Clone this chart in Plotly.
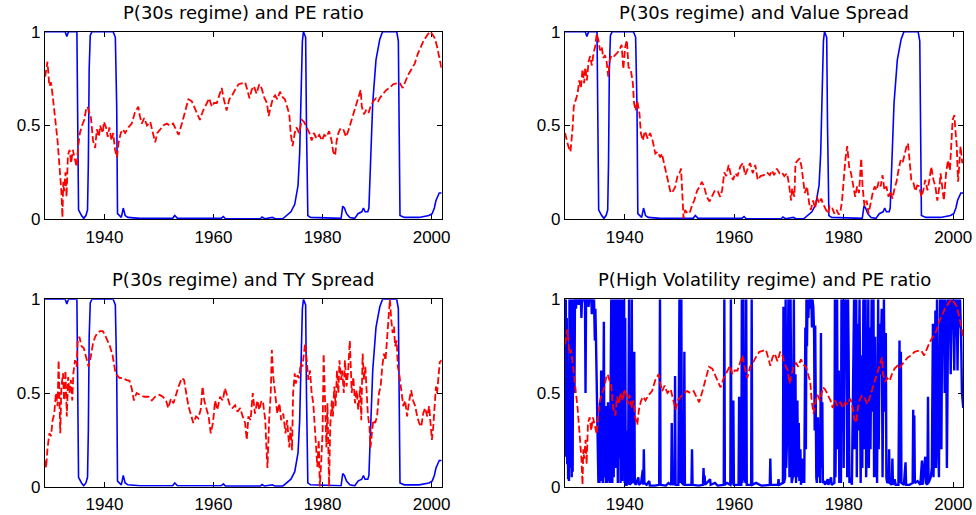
import plotly.graph_objects as go

# ---------------- data ----------------
# P(30s regime) - shared by the first three panels
p30_years = [1929.1, 1932.8, 1933.1, 1933.4, 1934.95, 1935.1, 1935.25, 1935.8, 1936.2, 1936.6,
             1936.9, 1937.05, 1937.2, 1937.4, 1937.7, 1941.6, 1942.0, 1942.25, 1942.4, 1943.1,
             1943.45, 1943.8, 1944.3, 1946.5, 1952.5, 1952.9, 1953.4, 1961.4, 1961.8, 1962.2,
             1968.6, 1968.9, 1969.4, 1970.8, 1971.3, 1972.7, 1973.4, 1974.2, 1974.9, 1975.5,
             1975.8, 1976.1, 1976.3, 1976.5, 1976.9, 1977.05, 1977.3, 1977.8, 1983.4, 1983.7,
             1984.0, 1984.4, 1985.0, 1985.9, 1986.5, 1987.2, 1987.5, 1987.8, 1988.3, 1988.5,
             1988.9, 1989.2, 1989.8, 1990.5, 1991.0, 1993.6, 1993.9, 1994.05, 1994.2, 1995.0,
             1997.7, 1999.5, 2000.1, 2000.5, 2000.8, 2001.4, 2001.85]
p30_prob = [1.0, 1.0, 0.975, 1.0, 1.0, 0.6, 0.05, 0.02, 0.005, 0.02,
            0.05, 0.3, 0.8, 0.98, 1.0, 1.0, 0.97, 0.6, 0.03, 0.01,
            0.06, 0.02, 0.01, 0.005, 0.005, 0.02, 0.005, 0.005, 0.015, 0.003,
            0.003, 0.012, 0.003, 0.01, 0.003, 0.003, 0.02, 0.04, 0.08, 0.18,
            0.35, 0.7, 0.95, 1.0, 0.97, 0.5, 0.02, 0.01, 0.005, 0.07,
            0.06, 0.03, 0.01, 0.005, 0.03, 0.04, 0.06, 0.04, 0.04, 0.06,
            0.35, 0.62, 0.85, 0.96, 1.0, 1.0, 0.95, 0.3, 0.02, 0.01,
            0.01, 0.02, 0.03, 0.06, 0.1, 0.14, 0.14]

# PE ratio (normalised) - panels 1 and 4
pe_years = [1929.13, 1929.4, 1929.55, 1929.9, 1930.2, 1930.5, 1930.8, 1931.1, 1931.4, 1931.65,
            1931.9, 1932.1, 1932.3, 1932.45, 1932.6, 1932.85, 1933.05, 1933.3, 1933.6, 1933.9,
            1934.2, 1934.5, 1934.9, 1935.2, 1935.5, 1935.9, 1936.3, 1936.6, 1936.9, 1937.2,
            1937.5, 1937.9, 1938.3, 1938.6, 1939.0, 1939.2, 1939.7, 1939.9, 1940.3, 1940.6,
            1940.9, 1941.3, 1941.6, 1941.95, 1942.3, 1942.6, 1943.0, 1943.4, 1943.8, 1944.4,
            1945.0, 1945.6, 1946.2, 1946.5, 1946.85, 1947.3, 1947.8, 1948.4, 1948.9, 1949.3,
            1949.7, 1950.2, 1950.8, 1951.4, 1952.0, 1952.6, 1953.1, 1953.6, 1954.2, 1954.8,
            1955.4, 1956.0, 1956.4, 1956.9, 1957.5, 1958.1, 1958.8, 1959.2, 1959.7, 1960.1,
            1960.6, 1961.1, 1961.5, 1961.9, 1962.4, 1962.9, 1963.4, 1963.95, 1964.6, 1965.2,
            1965.8, 1966.2, 1966.6, 1967.0, 1967.4, 1967.9, 1968.4, 1968.8, 1969.3, 1969.8,
            1970.1, 1970.5, 1970.9, 1971.3, 1971.7, 1972.2, 1972.7, 1973.1, 1973.5, 1973.9,
            1974.15, 1974.5, 1974.9, 1975.2, 1975.7, 1976.2, 1976.6, 1977.1, 1977.6, 1978.0,
            1978.4, 1978.9, 1979.4, 1979.9, 1980.3, 1980.75, 1981.2, 1981.65, 1981.95, 1982.3,
            1982.6, 1982.9, 1983.3, 1983.8, 1984.3, 1984.7, 1985.1, 1985.6, 1986.1, 1986.5,
            1987.0, 1987.2, 1987.6, 1987.95, 1988.4, 1988.8, 1989.3, 1989.8, 1990.2, 1990.6,
            1991.1, 1991.7, 1992.3, 1992.95, 1993.6, 1994.2, 1994.7, 1995.1, 1995.7, 1996.3,
            1996.9, 1997.5, 1998.0, 1998.5, 1998.95, 1999.4, 1999.8, 2000.2, 2000.6, 2001.0,
            2001.4, 2001.85]
pe_ratio = [0.76, 0.82, 0.84, 0.71, 0.73, 0.66, 0.56, 0.50, 0.42, 0.33,
            0.25, 0.15, 0.01, 0.20, 0.15, 0.25, 0.12, 0.34, 0.37, 0.30,
            0.37, 0.33, 0.28, 0.39, 0.46, 0.50, 0.53, 0.58, 0.60, 0.57,
            0.55, 0.42, 0.38, 0.48, 0.44, 0.50, 0.46, 0.52, 0.49, 0.44,
            0.49, 0.42, 0.46, 0.37, 0.33, 0.41, 0.46, 0.48, 0.46, 0.49,
            0.51, 0.57, 0.60, 0.55, 0.51, 0.54, 0.50, 0.52, 0.46, 0.41,
            0.46, 0.48, 0.50, 0.51, 0.50, 0.51, 0.48, 0.45, 0.51, 0.58,
            0.64, 0.63, 0.60, 0.57, 0.53, 0.58, 0.62, 0.645, 0.60, 0.62,
            0.62, 0.66, 0.70, 0.64, 0.58, 0.64, 0.66, 0.69, 0.72, 0.725,
            0.73, 0.69, 0.645, 0.69, 0.71, 0.67, 0.72, 0.70, 0.65, 0.62,
            0.55, 0.60, 0.645, 0.66, 0.64, 0.68, 0.65, 0.64, 0.60, 0.56,
            0.46, 0.39, 0.46, 0.49, 0.46, 0.53, 0.52, 0.49, 0.46, 0.42,
            0.46, 0.43, 0.45, 0.42, 0.45, 0.44, 0.47, 0.42, 0.36, 0.34,
            0.42, 0.46, 0.485, 0.48, 0.44, 0.47, 0.51, 0.56, 0.60, 0.64,
            0.69, 0.60, 0.56, 0.58, 0.565, 0.60, 0.63, 0.645, 0.63, 0.65,
            0.67, 0.69, 0.70, 0.72, 0.725, 0.725, 0.70, 0.73, 0.77, 0.80,
            0.83, 0.885, 0.92, 0.95, 0.97, 0.99, 1.00, 0.98, 0.965, 0.92,
            0.87, 0.80]

# Value spread (normalised) - panel 2
vs_years = [1929.1, 1929.4, 1929.7, 1930.1, 1930.5, 1930.7, 1931.1, 1931.4, 1931.7, 1932.0,
            1932.3, 1932.6, 1932.8, 1933.1, 1933.4, 1933.7, 1934.0, 1934.3, 1934.6, 1934.9,
            1935.2, 1935.5, 1935.8, 1936.1, 1936.4, 1936.7, 1937.0, 1937.3, 1937.6, 1938.05,
            1938.55, 1939.0, 1939.45, 1939.75, 1940.1, 1940.4, 1940.7, 1941.1, 1941.5, 1941.7,
            1942.0, 1942.3, 1942.7, 1942.95, 1943.3, 1943.7, 1944.2, 1944.65, 1945.1, 1945.6,
            1946.0, 1946.5, 1946.8, 1947.2, 1947.6, 1948.0, 1948.4, 1948.8, 1949.2, 1949.65,
            1950.0, 1950.3, 1950.5, 1950.75, 1951.05, 1951.5, 1951.95, 1952.3, 1952.7, 1953.2,
            1953.7, 1954.1, 1954.5, 1955.0, 1955.5, 1956.0, 1956.5, 1957.0, 1957.45, 1957.8,
            1958.2, 1958.55, 1959.0, 1959.4, 1959.8, 1960.2, 1960.6, 1961.1, 1961.6, 1962.0,
            1962.45, 1962.9, 1963.4, 1963.85, 1964.3, 1964.8, 1965.4, 1966.0, 1966.5, 1966.9,
            1967.3, 1967.8, 1968.3, 1968.7, 1969.15, 1969.65, 1970.0, 1970.4, 1970.6, 1971.0,
            1971.2, 1971.6, 1971.95, 1972.3, 1972.6, 1972.9, 1973.3, 1973.7, 1974.0, 1974.4,
            1974.8, 1975.1, 1975.5, 1975.9, 1976.2, 1976.65, 1977.1, 1977.45, 1977.9, 1978.3,
            1978.7, 1979.1, 1979.4, 1979.7, 1980.0, 1980.3, 1980.65, 1981.0, 1981.35, 1981.7,
            1982.1, 1982.45, 1982.8, 1983.2, 1983.45, 1983.8, 1984.2, 1984.55, 1984.9, 1985.3,
            1985.65, 1986.0, 1986.4, 1986.75, 1987.1, 1987.45, 1987.8, 1988.2, 1988.55, 1988.9,
            1989.3, 1989.65, 1990.0, 1990.4, 1990.75, 1991.1, 1991.5, 1991.75, 1992.0, 1992.35,
            1992.7, 1993.1, 1993.45, 1993.8, 1994.2, 1994.55, 1994.9, 1995.3, 1995.65, 1996.0,
            1996.4, 1996.75, 1997.1, 1997.5, 1997.7, 1998.0, 1998.3, 1998.7, 1999.05, 1999.4,
            1999.7, 1999.9, 2000.2, 2000.4, 2000.65, 2000.9, 2001.1, 2001.35, 2001.65, 2001.85]
value_spread = [0.46, 0.42, 0.39, 0.36, 0.49, 0.60, 0.64, 0.67, 0.74, 0.70,
                0.80, 0.725, 0.81, 0.74, 0.84, 0.87, 0.82, 0.885, 0.92, 0.99,
                0.955, 0.90, 0.92, 0.86, 0.875, 0.84, 0.76, 0.85, 0.875, 0.87,
                0.885, 0.90, 0.93, 0.80, 0.92, 0.955, 0.81, 0.80, 0.725, 0.62,
                0.58, 0.63, 0.565, 0.46, 0.42, 0.47, 0.43, 0.46, 0.42, 0.35,
                0.36, 0.33, 0.35, 0.30, 0.245, 0.19, 0.14, 0.15, 0.17, 0.23,
                0.245, 0.27, 0.17, 0.005, 0.05, 0.03, 0.04, 0.075, 0.10, 0.15,
                0.175, 0.20, 0.175, 0.12, 0.095, 0.13, 0.155, 0.15, 0.12, 0.155,
                0.25, 0.23, 0.29, 0.235, 0.21, 0.245, 0.23, 0.28, 0.30, 0.235,
                0.27, 0.30, 0.245, 0.29, 0.21, 0.23, 0.235, 0.25, 0.235, 0.26,
                0.235, 0.27, 0.245, 0.25, 0.23, 0.245, 0.19, 0.10, 0.165, 0.12,
                0.30, 0.315, 0.325, 0.28, 0.21, 0.14, 0.175, 0.085, 0.05, 0.10,
                0.06, 0.12, 0.085, 0.11, 0.085, 0.06, 0.03, 0.07, 0.06, 0.03,
                0.05, 0.025, 0.04, 0.10, 0.21, 0.315, 0.39, 0.28, 0.245, 0.19,
                0.12, 0.175, 0.14, 0.325, 0.175, 0.07, 0.10, 0.03, 0.085, 0.14,
                0.175, 0.155, 0.20, 0.175, 0.235, 0.155, 0.175, 0.12, 0.15, 0.11,
                0.165, 0.20, 0.26, 0.315, 0.30, 0.35, 0.39, 0.405, 0.30, 0.21,
                0.20, 0.15, 0.18, 0.175, 0.12, 0.155, 0.21, 0.155, 0.21, 0.28,
                0.21, 0.175, 0.10, 0.175, 0.245, 0.155, 0.10, 0.245, 0.315, 0.26,
                0.39, 0.53, 0.555, 0.46, 0.39, 0.20, 0.315, 0.39, 0.30, 0.315]

# Term (TY) spread (normalised) - panel 3
ty_years = [1929.13, 1929.3, 1929.55, 1929.9, 1930.2, 1930.5, 1930.8, 1931.1, 1931.4, 1931.6,
            1931.9, 1932.1, 1932.4, 1932.6, 1932.85, 1933.1, 1933.35, 1933.6, 1933.85, 1934.1,
            1934.3, 1934.6, 1934.9, 1935.1, 1935.4, 1935.8, 1936.2, 1936.5, 1936.9, 1937.1,
            1937.5, 1937.9, 1938.3, 1938.7, 1939.2, 1939.7, 1940.1, 1940.55, 1941.0, 1941.5,
            1941.95, 1942.3, 1942.8, 1943.4, 1944.0, 1944.6, 1945.0, 1945.4, 1945.9, 1946.5,
            1947.3, 1948.1, 1948.7, 1949.3, 1950.1, 1950.7, 1951.3, 1951.7, 1952.2, 1952.65,
            1953.15, 1953.6, 1954.2, 1954.6, 1955.0, 1955.4, 1955.8, 1956.3, 1956.8, 1957.2,
            1957.65, 1958.0, 1958.3, 1958.6, 1959.1, 1959.5, 1959.9, 1960.3, 1960.7, 1961.2,
            1961.7, 1962.1, 1962.55, 1963.0, 1963.5, 1963.95, 1964.4, 1964.9, 1965.35, 1965.8,
            1966.1, 1966.4, 1966.8, 1967.2, 1967.6, 1968.05, 1968.4, 1968.8, 1969.1, 1969.5,
            1969.75, 1969.9, 1970.2, 1970.5, 1970.7, 1970.95, 1971.3, 1971.7, 1972.1, 1972.4,
            1972.8, 1973.2, 1973.5, 1973.9, 1974.15, 1974.4, 1974.6, 1974.9, 1975.1, 1975.4,
            1975.7, 1976.0, 1976.3, 1976.6, 1976.8, 1977.1, 1977.4, 1977.7, 1978.0, 1978.3,
            1978.55, 1978.8, 1979.05, 1979.3, 1979.5, 1979.8, 1980.0, 1980.2, 1980.45, 1980.7,
            1980.9, 1981.2, 1981.4, 1981.7, 1981.9, 1982.15, 1982.4, 1982.65, 1982.9, 1983.1,
            1983.4, 1983.6, 1983.9, 1984.1, 1984.4, 1984.7, 1985.0, 1985.35, 1985.65, 1985.95,
            1986.25, 1986.55, 1986.9, 1987.1, 1987.35, 1987.6, 1987.85, 1988.1, 1988.3, 1988.6,
            1988.8, 1989.05, 1989.3, 1989.65, 1990.0, 1990.35, 1990.65, 1990.95, 1991.25, 1991.55,
            1991.9, 1992.1, 1992.35, 1992.6, 1992.85, 1993.1, 1993.3, 1993.6, 1993.8, 1994.05,
            1994.4, 1994.8, 1995.15, 1995.5, 1995.9, 1996.25, 1996.6, 1997.0, 1997.35, 1997.7,
            1998.1, 1998.45, 1998.8, 1999.2, 1999.55, 1999.8, 2000.05, 2000.3, 2000.5, 2000.8,
            2001.0, 2001.3, 2001.5, 2001.85]
ty_spread = [0.14, 0.10, 0.20, 0.285, 0.27, 0.355, 0.39, 0.50, 0.43, 0.675,
             0.285, 0.53, 0.605, 0.46, 0.62, 0.375, 0.585, 0.50, 0.57, 0.46,
             0.605, 0.675, 0.64, 0.78, 0.80, 0.75, 0.74, 0.71, 0.66, 0.64,
             0.695, 0.765, 0.80, 0.82, 0.83, 0.83, 0.81, 0.78, 0.75, 0.70,
             0.62, 0.595, 0.58, 0.58, 0.57, 0.565, 0.525, 0.46, 0.50, 0.49,
             0.48, 0.48, 0.46, 0.48, 0.49, 0.48, 0.46, 0.42, 0.47, 0.445,
             0.50, 0.535, 0.58, 0.57, 0.50, 0.43, 0.39, 0.34, 0.375, 0.365,
             0.41, 0.535, 0.46, 0.43, 0.375, 0.285, 0.34, 0.46, 0.41, 0.48,
             0.46, 0.525, 0.48, 0.435, 0.42, 0.435, 0.40, 0.42, 0.375, 0.34,
             0.25, 0.375, 0.355, 0.50, 0.39, 0.46, 0.41, 0.46, 0.445, 0.355,
             0.18, 0.10, 0.355, 0.50, 0.73, 0.59, 0.50, 0.39, 0.445, 0.355,
             0.39, 0.285, 0.355, 0.21, 0.32, 0.195, 0.50, 0.605, 0.55, 0.595,
             0.58, 0.66, 0.64, 0.71, 0.765, 0.675, 0.57, 0.62, 0.50, 0.445,
             0.32, 0.21, 0.105, 0.25, 0.0, 0.16, 0.285, 0.71, 0.41, 0.21,
             0.445, 0.0, 0.32, 0.46, 0.375, 0.535, 0.43, 0.62, 0.50, 0.675,
             0.57, 0.62, 0.50, 0.675, 0.535, 0.62, 0.78, 0.50, 0.585, 0.445,
             0.515, 0.41, 0.535, 0.355, 0.71, 0.57, 0.64, 0.50, 0.39, 0.32,
             0.21, 0.285, 0.355, 0.34, 0.375, 0.50, 0.535, 0.64, 0.71, 0.675,
             0.82, 0.89, 1.0, 0.89, 0.82, 0.855, 0.75, 0.78, 0.64, 0.605,
             0.515, 0.43, 0.46, 0.375, 0.46, 0.515, 0.46, 0.43, 0.375, 0.34,
             0.32, 0.39, 0.42, 0.375, 0.43, 0.355, 0.25, 0.32, 0.41, 0.535,
             0.50, 0.62, 0.665, 0.675]

# P(High Volatility regime) - panel 4
hv_years = [1929.1, 1929.18, 1929.25, 1929.33, 1929.42, 1929.5, 1929.58, 1929.67, 1929.75, 1929.83,
            1929.92, 1930.0, 1930.08, 1930.17, 1930.25, 1930.33, 1930.42, 1930.5, 1930.58, 1930.67,
            1930.75, 1930.83, 1930.92, 1931.0, 1931.1, 1931.2, 1931.5, 1931.6, 1931.7, 1932.0,
            1932.1, 1932.2, 1932.6, 1932.75, 1932.85, 1932.95, 1933.3, 1933.4, 1933.5, 1933.9,
            1934.0, 1934.1, 1934.3, 1934.4, 1934.55, 1934.65, 1934.75, 1934.85, 1935.0, 1935.1,
            1935.2, 1935.3, 1935.4, 1935.5, 1935.6, 1935.7, 1935.8, 1935.9, 1936.0, 1936.2,
            1936.3, 1936.45, 1936.55, 1936.7, 1936.8, 1936.95, 1937.05, 1937.2, 1937.3, 1937.45,
            1937.55, 1937.65, 1937.75, 1937.9, 1938.0, 1938.1, 1938.2, 1938.3, 1938.45, 1938.55,
            1938.65, 1938.75, 1938.85, 1938.95, 1939.05, 1939.15, 1939.25, 1939.35, 1939.45, 1939.55,
            1939.7, 1939.8, 1939.9, 1940.0, 1940.1, 1940.2, 1940.35, 1940.5, 1940.6, 1940.8,
            1940.9, 1941.2, 1941.3, 1941.4, 1941.6, 1941.75, 1941.85, 1942.0, 1942.5, 1942.6,
            1943.0, 1943.3, 1943.4, 1943.5, 1943.6, 1944.0, 1944.5, 1944.6, 1945.5, 1946.3,
            1946.45, 1946.55, 1947.5, 1948.0, 1948.5, 1948.6, 1948.7, 1949.1, 1949.2, 1949.3,
            1949.8, 1950.0, 1950.1, 1950.2, 1950.35, 1950.45, 1950.8, 1950.9, 1951.0, 1952.2,
            1952.3, 1952.4, 1953.5, 1954.3, 1954.4, 1954.5, 1954.6, 1954.7, 1955.6, 1955.7,
            1956.5, 1957.0, 1958.1, 1958.2, 1958.3, 1958.7, 1959.3, 1959.4, 1959.5, 1959.85,
            1959.95, 1960.8, 1960.9, 1961.0, 1961.3, 1961.4, 1961.5, 1961.7, 1961.8, 1962.1,
            1962.2, 1962.3, 1963.1, 1963.2, 1963.3, 1964.0, 1965.0, 1966.5, 1966.6, 1966.7,
            1968.0, 1968.1, 1968.2, 1968.9, 1969.0, 1969.1, 1969.3, 1969.4, 1969.5, 1969.7,
            1969.9, 1970.0, 1970.1, 1970.3, 1970.4, 1970.5, 1970.7, 1970.8, 1970.9, 1971.0,
            1971.1, 1971.2, 1971.3, 1971.45, 1971.55, 1971.65, 1971.8, 1971.9, 1972.1, 1972.2,
            1972.4, 1972.5, 1972.7, 1972.8, 1973.0, 1973.1, 1973.2, 1973.3, 1973.4, 1973.55,
            1973.65, 1973.8, 1973.9, 1974.1, 1974.2, 1974.3, 1974.45, 1974.6, 1974.7, 1974.8,
            1975.0, 1975.1, 1975.3, 1975.4, 1975.6, 1975.7, 1975.85, 1975.95, 1976.1, 1976.2,
            1976.5, 1976.6, 1977.1, 1977.2, 1977.7, 1977.8, 1978.3, 1978.4, 1978.5, 1978.8,
            1978.9, 1979.1, 1979.2, 1979.4, 1979.5, 1979.6, 1979.75, 1979.9, 1980.0, 1980.2,
            1980.35, 1980.5, 1980.65, 1980.8, 1980.9, 1981.05, 1981.3, 1981.5, 1981.9, 1982.0,
            1982.3, 1982.4, 1982.55, 1982.65, 1982.9, 1983.0, 1983.1, 1983.3, 1983.4, 1983.6,
            1983.7, 1984.0, 1984.1, 1984.3, 1984.5, 1984.6, 1984.8, 1984.9, 1985.1, 1985.2,
            1985.45, 1985.55, 1985.75, 1985.9, 1986.0, 1986.1, 1986.3, 1986.4, 1986.6, 1986.7,
            1986.95, 1987.1, 1987.35, 1987.5, 1987.7, 1987.8, 1987.95, 1988.2, 1988.3, 1988.4,
            1988.8, 1988.9, 1989.0, 1989.3, 1989.5, 1990.0, 1990.2, 1990.3, 1990.45, 1990.55,
            1991.0, 1991.3, 1991.4, 1992.0, 1992.6, 1992.7, 1992.8, 1992.9, 1993.0, 1993.5,
            1994.0, 1994.3, 1994.4, 1994.9, 1995.0, 1995.3, 1995.4, 1995.5, 1995.9, 1996.1,
            1996.3, 1996.4, 1996.6, 1996.75, 1996.85, 1997.05, 1997.2, 1997.4, 1997.6, 1997.75,
            1997.85, 1998.0, 1998.15, 1998.3, 1998.45, 1998.6, 1998.7, 1998.85, 1999.0, 1999.1,
            1999.25, 1999.4, 1999.55, 1999.7, 1999.85, 2000.0, 2000.2, 2000.35, 2000.5, 2000.65,
            2000.8, 2000.95, 2001.1, 2001.25, 2001.45, 2001.6, 2001.85]
hv_prob = [1.0, 0.6, 1.0, 0.16, 0.9, 0.12, 0.5, 0.04, 0.14, 0.03,
           1.0, 0.1, 0.98, 0.2, 1.0, 0.05, 0.7, 0.08, 1.0, 0.96,
           1.0, 0.5, 1.0, 1.0, 0.95, 1.0, 1.0, 0.97, 1.0, 1.0,
           0.9, 1.0, 1.0, 0.98, 0.5, 1.0, 1.0, 0.96, 1.0, 1.0,
           0.92, 1.0, 0.97, 1.0, 0.78, 0.95, 0.8, 0.6, 0.15, 0.05,
           0.02, 0.1, 0.02, 0.45, 0.03, 0.62, 0.05, 0.28, 0.02, 0.88,
           0.05, 0.15, 0.02, 0.43, 0.02, 0.45, 0.03, 0.3, 0.02, 0.6,
           1.0, 0.1, 0.02, 1.0, 0.05, 0.98, 0.3, 1.0, 0.1, 1.0,
           0.6, 0.02, 1.0, 0.85, 0.15, 1.0, 0.02, 0.7, 1.0, 0.03,
           1.0, 0.4, 1.0, 0.02, 0.9, 0.01, 0.01, 0.3, 0.01, 1.0,
           0.01, 0.02, 1.0, 0.05, 0.02, 0.72, 0.02, 0.01, 0.05, 0.01,
           0.02, 0.09, 0.01, 0.2, 0.02, 0.01, 0.03, 0.005, 0.005, 0.01,
           1.0, 0.01, 0.005, 0.02, 0.01, 0.34, 0.01, 0.02, 0.59, 0.01,
           0.01, 1.0, 0.05, 0.02, 1.0, 0.02, 0.01, 0.72, 0.01, 0.01,
           0.2, 0.01, 0.005, 0.01, 0.1, 0.02, 0.06, 0.01, 0.04, 0.01,
           0.02, 0.005, 0.01, 1.0, 0.01, 0.02, 0.01, 1.0, 0.01, 0.46,
           0.01, 0.01, 0.48, 0.01, 0.01, 1.0, 0.02, 1.0, 0.05, 0.02,
           1.0, 0.01, 0.01, 1.0, 0.01, 0.02, 0.005, 0.01, 0.15, 0.01,
           0.01, 0.04, 0.01, 0.02, 0.96, 0.02, 0.05, 1.0, 0.1, 0.3,
           1.0, 0.7, 0.05, 1.0, 0.4, 0.02, 0.05, 0.85, 1.0, 0.3,
           0.05, 0.6, 0.02, 0.38, 0.46, 0.05, 0.34, 0.03, 0.2, 0.01,
           0.15, 0.02, 0.1, 0.02, 0.85, 0.2, 1.0, 0.75, 1.0, 0.9,
           1.0, 0.95, 1.0, 1.0, 0.85, 1.0, 0.96, 0.82, 0.3, 0.86,
           0.05, 0.02, 0.37, 0.05, 0.25, 0.02, 0.82, 0.1, 0.45, 0.02,
           0.03, 0.01, 0.04, 0.01, 0.05, 0.01, 0.02, 1.0, 0.05, 1.0,
           0.2, 0.62, 0.02, 0.5, 0.02, 1.0, 0.3, 1.0, 0.1, 1.0,
           0.7, 1.0, 0.05, 1.0, 0.73, 0.02, 0.05, 0.01, 1.0, 0.2,
           1.0, 0.05, 0.87, 0.3, 1.0, 0.4, 0.02, 0.7, 0.1, 1.0,
           0.2, 1.0, 0.05, 0.3, 1.0, 0.1, 0.85, 0.2, 1.0, 0.4,
           1.0, 0.05, 0.8, 0.05, 0.5, 0.02, 1.0, 0.2, 0.87, 0.6,
           0.95, 0.05, 1.0, 0.4, 0.82, 0.05, 0.02, 0.03, 0.2, 0.02,
           0.01, 0.15, 0.01, 0.04, 0.01, 0.01, 0.78, 0.02, 0.72, 0.02,
           0.01, 0.13, 0.01, 0.01, 0.02, 0.41, 0.05, 0.38, 0.02, 0.03,
           0.01, 0.14, 0.01, 0.16, 0.02, 0.01, 0.48, 0.02, 0.05, 0.1,
           0.87, 0.05, 0.3, 0.94, 0.1, 1.0, 0.3, 0.05, 1.0, 0.69,
           0.2, 1.0, 0.9, 1.0, 0.5, 1.0, 0.96, 0.1, 0.65, 1.0,
           0.78, 1.0, 0.6, 1.0, 0.9, 1.0, 0.62, 1.0, 0.8, 1.0,
           0.62, 1.0, 0.85, 1.0, 0.8, 0.5, 0.42]

titles = ["P(30s regime) and PE ratio", "P(30s regime) and Value Spread",
          "P(30s regime) and TY Spread", "P(High Volatility regime) and PE ratio"]
x_ticks = [1940, 1960, 1980, 2000]
x_tick_labels = ["1940", "1960", "1980", "2000"]
y_ticks = [0, 0.5, 1]
y_tick_labels = ["0", "0.5", "1"]

# ---------------- figure ----------------
W, H = 976, 515
BLUE = "#0000ff"
RED = "#ff0000"

# pixel boxes of the four axes (left, right, top, bottom)
boxes = [(45, 441.7, 31.7, 219.3), (565, 963.3, 31.7, 219.3),
         (45, 441.7, 299.3, 486.7), (565, 963.3, 299.3, 486.7)]

panels = [
    (p30_years, p30_prob, pe_years, pe_ratio, 1.6),
    (p30_years, p30_prob, vs_years, value_spread, 1.6),
    (p30_years, p30_prob, ty_years, ty_spread, 1.6),
    (hv_years, hv_prob, pe_years, pe_ratio, 2.4),
]

fig = go.Figure()
annotations = []
for i, ((bx, by, rx, ry, bw), (l, r, t, b)) in enumerate(zip(panels, boxes)):
    n = i + 1
    xa = "x" if n == 1 else f"x{n}"
    ya = "y" if n == 1 else f"y{n}"
    fig.add_trace(go.Scatter(x=bx, y=by, mode="lines", xaxis=xa, yaxis=ya,
                             line=dict(color=BLUE, width=bw), hoverinfo="skip"))
    fig.add_trace(go.Scatter(x=rx, y=ry, mode="lines", xaxis=xa, yaxis=ya,
                             line=dict(color=RED, width=1.8, dash="7px,3px"),
                             hoverinfo="skip"))
    common = dict(showline=True, linecolor="black", linewidth=1.2, mirror="ticks",
                  ticks="inside", ticklen=5, tickwidth=1, tickcolor="black",
                  showgrid=False, zeroline=False, layer="below traces",
                  automargin=False,
                  tickfont=dict(family="Liberation Sans", size=17, color="black"))
    fig.update_layout({
        ("xaxis" if n == 1 else f"xaxis{n}"): dict(
            domain=[l / W, r / W], anchor=ya, range=[1929.1, 2001.85],
            tickvals=x_ticks, ticktext=x_tick_labels, ticklabelstandoff=2, **common),
        ("yaxis" if n == 1 else f"yaxis{n}"): dict(
            domain=[1 - b / H, 1 - t / H], anchor=xa, range=[0, 1],
            tickvals=y_ticks, ticktext=y_tick_labels, **common),
    })
    annotations.append(dict(text=titles[i], xref="paper", yref="paper",
                            x=(l + r) / 2 / W, y=1 - (t - 19.5) / H,
                            xanchor="center", yanchor="middle", showarrow=False,
                            font=dict(family="DejaVu Sans", size=18, color="black")))

fig.update_layout(template="none", width=W, height=H,
                  margin=dict(l=0, r=0, t=0, b=0, pad=0),
                  paper_bgcolor="white", plot_bgcolor="white", showlegend=False,
                  annotations=annotations)

fig.write_html("out.html", config={"displayModeBar": False},
               post_script="document.body.style.margin='0';document.body.style.padding='0';")
